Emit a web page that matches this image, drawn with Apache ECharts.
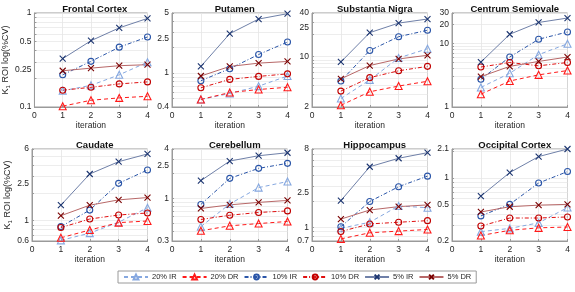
<!DOCTYPE html>
<html>
<head>
<meta charset="utf-8">
<script src="https://cdn.jsdelivr.net/npm/echarts@6/dist/echarts.min.js"></script>
<style>
    html, body { margin: 0; padding: 0; background: #fff; }
    #chart { width: 575px; height: 292px; }
</style>
</head>
<body>
<div id="chart"></div>
<script>
// data, one inner list per region, values for iteration 1..4
const regions = ["Frontal Cortex", "Putamen", "Substantia Nigra", "Centrum Semiovale",
    "Caudate", "Cerebellum", "Hippocampus", "Occipital Cortex"]
const iterations = [1, 2, 3, 4]

const ir20 = [
    [0.149, 0.17, 0.22, 0.30], [0.49, 0.575, 0.70, 0.92], [2.62, 4.74, 9.55, 12.8], [2.03, 3.39, 6.65, 9.85],
    [0.61, 0.73, 0.96, 1.38], [0.45, 0.85, 1.35, 1.6], [0.98, 1.15, 1.77, 1.69], [0.254, 0.276, 0.318, 0.47]
]
const dr20 = [
    [0.102, 0.118, 0.125, 0.13], [0.49, 0.59, 0.64, 0.68], [2.11, 3.25, 3.9, 4.54], [1.59, 2.56, 3.2, 3.74],
    [0.65, 0.79, 0.95, 0.99], [0.40, 0.46, 0.49, 0.52], [0.74, 0.87, 0.91, 0.95], [0.23, 0.263, 0.28, 0.286]
]
const ir10 = [
    [0.22, 0.306, 0.433, 0.556], [0.81, 1.12, 1.64, 2.29], [4.58, 12.1, 18.8, 23.1], [2.73, 6.1, 11.6, 15.1],
    [0.86, 1.3, 2.54, 3.55], [0.84, 1.75, 2.32, 2.67], [1.02, 1.99, 2.95, 3.9], [0.38, 0.51, 0.88, 1.18]
]
const dr10 = [
    [0.151, 0.162, 0.176, 0.185], [0.67, 0.84, 0.91, 0.975], [3.32, 5.1, 6.34, 7.3], [4.25, 5.0, 4.44, 5.0],
    [0.84, 1.04, 1.15, 1.21], [0.55, 0.62, 0.67, 0.70], [0.90, 1.10, 1.15, 1.20], [0.293, 0.36, 0.36, 0.37]
]
const ir5 = [
    [0.327, 0.507, 0.695, 0.876], [1.19, 2.87, 4.25, 4.91], [8.4, 21.4, 29, 33], [5.07, 13.9, 21.3, 25],
    [1.47, 3.21, 4.37, 5.3], [1.64, 2.85, 3.31, 3.6], [2.04, 5.0, 6.26, 7.26], [0.63, 1.15, 1.73, 2.1]
]
const dr5 = [
    [0.243, 0.259, 0.275, 0.282], [0.92, 1.19, 1.30, 1.36], [4.9, 7.5, 9.25, 10.4], [3.0, 4.35, 5.2, 6.1],
    [1.13, 1.47, 1.68, 1.78], [0.75, 0.83, 0.89, 0.94], [1.25, 1.59, 1.74, 1.82], [0.42, 0.48, 0.50, 0.51]
]

const yMin = [0.1, 0.4, 2, 1, 0.6, 0.3, 0.7, 0.2]
const yMax = [1, 5, 40, 30, 6, 4, 8, 2.1]
const yTicks = [
    [0.1, 0.25, 0.5, 1], [0.4, 1, 2.5, 5], [2, 10, 25, 40], [1, 10, 20, 30],
    [0.6, 1, 2.5, 6], [0.3, 1, 2.5, 4], [0.7, 1, 2.5, 8], [0.2, 0.5, 1, 2.1]
]

const FONT = "Liberation Sans, Arial, sans-serif"
const X_PATH = 'path://M0,0L10,10M10,0L0,10'

// line styles for the 6 series (legend order)
const styles = [
    { name: '20% IR', data: ir20, line: '#86a8e0', marker: '#86a8e0', dash: [4, 3], symbol: 'triangle', size: 7 },
    { name: '20% DR', data: dr20, line: '#ff1a1a', marker: '#ff1a1a', dash: [4, 3], symbol: 'triangle', size: 7 },
    { name: '10% IR', data: ir10, line: '#2a55a8', marker: '#2a55a8', dash: [4, 2, 1, 2], symbol: 'circle', size: 6 },
    { name: '10% DR', data: dr10, line: '#e01010', marker: '#c00000', dash: [4, 2, 1, 2], symbol: 'circle', size: 6 },
    { name: '5% IR', data: ir5, line: '#6f80a8', marker: '#1c3570', dash: 'solid', symbol: X_PATH, size: 6 },
    { name: '5% DR', data: dr5, line: '#b86868', marker: '#7a0000', dash: 'solid', symbol: X_PATH, size: 6 }
]

// minor grid positions for a log axis (1..9 x 10^k inside the range)
function logGrid(min, max) {
    const out = []
    for (let e = -2; e <= 2; e++) {
        for (let m = 1; m <= 9; m++) {
            const v = +(m * Math.pow(10, e)).toPrecision(6)
            if (v >= min - 1e-9 && v <= max + 1e-9) out.push(v)
        }
    }
    if (out.indexOf(max) < 0) out.push(max)
    return out
}

const lefts = [32, 172, 312, 452]
const tops = [13, 149]
const heights = [94, 92]
const W = 115.5

const grid = [], xAxis = [], yAxis = [], title = [], series = []

regions.forEach(function (reg, i) {
    const col = i % 4, row = Math.floor(i / 4)
    grid.push({
        left: lefts[col], top: tops[row], width: W, height: heights[row],
        show: true, borderColor: '#9a9a9a', borderWidth: 1
    })
    title.push({
        text: reg,
        left: lefts[col] + W / 2,
        top: tops[row] - 14,
        textAlign: 'center',
        textStyle: { fontFamily: FONT, fontSize: 9.5, fontWeight: 'bold', color: '#111' }
    })
    xAxis.push({
        gridIndex: i, type: 'value', min: 0, max: 4, interval: 1,
        name: 'iteration', nameLocation: 'middle', nameGap: 14,
        nameTextStyle: { fontFamily: FONT, fontSize: 8.5, color: '#262626' },
        axisLine: { show: true, lineStyle: { color: '#9a9a9a' } },
        axisTick: { show: true, inside: true, length: 2, lineStyle: { color: '#9a9a9a' } },
        axisLabel: { fontFamily: FONT, fontSize: 8.5, color: '#262626', margin: 4 },
        splitLine: { show: true, lineStyle: { color: '#e4e4e4', width: 0.8 } }
    })
    const y = {
        gridIndex: i, type: 'log', logBase: 10, min: yMin[i], max: yMax[i],
        axisLine: { show: true, lineStyle: { color: '#9a9a9a' } },
        axisTick: { show: true, inside: true, length: 2, customValues: logGrid(yMin[i], yMax[i]),
            lineStyle: { color: '#9a9a9a' } },
        axisLabel: { fontFamily: FONT, fontSize: 8.5, color: '#262626', margin: 3,
            customValues: yTicks[i], showMinLabel: true, showMaxLabel: true,
            formatter: function (v) { return String(+(+v).toPrecision(4)) } },
        splitLine: { show: true, lineStyle: { color: '#e8e8e8', width: 0.8 } }
    }
    if (col === 0) {
        y.name = '{k|K}{s|1}{k| ROI log(%CV)}'
        y.nameLocation = 'middle'
        y.nameGap = 18
        y.nameRotate = 90
        y.nameTextStyle = {
            fontFamily: FONT, color: '#262626',
            rich: {
                k: { fontFamily: FONT, fontSize: 9, color: '#262626' },
                s: { fontFamily: FONT, fontSize: 6, color: '#262626', padding: [5, 0, 0, 0] }
            }
        }
    }
    yAxis.push(y)

    styles.forEach(function (s) {
        series.push({
            name: s.name, type: 'line',
            xAxisIndex: i, yAxisIndex: i,
            data: iterations.map(function (it, k) { return [it, s.data[i][k]] }),
            symbol: s.symbol, symbolSize: s.size,
            showAllSymbol: true,
            lineStyle: { color: s.line, width: 1, type: s.dash },
            itemStyle: { color: 'rgba(0,0,0,0)', borderColor: s.marker, borderWidth: 1.1 },
            emphasis: { disabled: true },
            animation: false
        })
    })
})

const myChart = echarts.init(document.getElementById('chart'))
const option = {
    backgroundColor: '#fff',
    animation: false,
    title: title,
    grid: grid,
    xAxis: xAxis,
    yAxis: yAxis,
    legend: {
        data: styles.map(function (s) { return s.name }),
        left: 118, top: 271,
        orient: 'horizontal',
        itemWidth: 24, itemHeight: 6, itemGap: 5,
        padding: [2, 5, 2, 5],
        borderColor: '#9a9a9a', borderWidth: 1,
        textStyle: { fontFamily: FONT, fontSize: 7.5, color: '#262626', padding: [0, 0, 0, -1] }
    },
    series: series
}
myChart.setOption(option)

window.addEventListener('resize', function () {
    myChart.resize()
})
</script>
</body>
</html>
